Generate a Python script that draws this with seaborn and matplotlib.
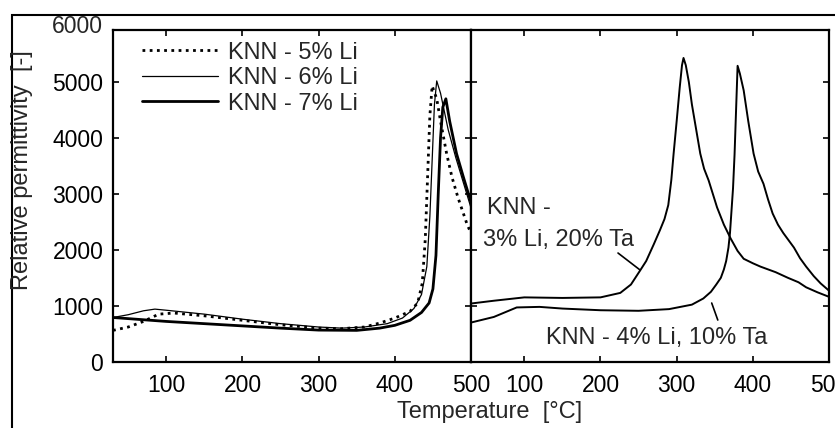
import matplotlib
matplotlib.use("Agg")
import matplotlib.pyplot as plt
import seaborn as sns
from matplotlib.patches import Rectangle

# ---------------- data ----------------
li5_x = [30, 50, 70, 90, 110, 150, 200, 250, 300, 330, 360, 380, 400, 420, 430, 436, 440, 443, 446, 449, 455, 460, 468, 475, 483, 490, 495, 500]
li5_y = [560, 620, 720, 850, 870, 820, 740, 660, 600, 590, 620, 690, 780, 900, 1050, 1400, 2200, 3300, 4400, 4930, 4700, 4300, 3720, 3300, 2930, 2650, 2450, 2300]

li6_x = [30, 50, 70, 85, 100, 150, 200, 250, 300, 330, 360, 390, 410, 425, 435, 442, 446, 449, 452, 455, 460, 470, 480, 490, 500]
li6_y = [790, 840, 910, 940, 920, 850, 760, 680, 620, 600, 620, 680, 780, 950, 1200, 1700, 2600, 3600, 4600, 5020, 4800, 4150, 3650, 3200, 2750]

li7_x = [30, 60, 100, 150, 200, 250, 300, 350, 380, 400, 420, 435, 445, 450, 454, 457, 460, 463, 467, 472, 481, 490, 500]
li7_y = [790, 760, 720, 680, 640, 600, 565, 560, 600, 650, 740, 880, 1050, 1300, 1900, 3000, 4000, 4550, 4700, 4300, 3720, 3300, 2850]

ta20_x = [30, 60, 100, 150, 200, 226, 240, 252, 260, 270, 278, 284, 289, 293, 296, 300, 304, 307, 309, 312, 316, 320, 325, 331, 336, 342, 353, 362, 371, 380, 388, 400, 410, 430, 446, 460, 470, 485, 500]
ta20_y = [1040, 1090, 1150, 1140, 1150, 1230, 1380, 1630, 1800, 2100, 2350, 2550, 2800, 3250, 3720, 4300, 4900, 5300, 5430, 5300, 5000, 4600, 4200, 3720, 3450, 3240, 2760, 2450, 2200, 1980, 1840, 1760, 1700, 1600, 1500, 1420, 1330, 1240, 1160]

ta10_x = [30, 60, 90, 120, 150, 200, 250, 290, 320, 335, 345, 352, 358, 362, 365, 368, 370, 372, 374, 376, 378, 380, 383, 388, 394, 401, 407, 414, 420, 426, 433, 440, 447, 454, 462, 470, 480, 489, 500]
ta10_y = [700, 800, 970, 980, 950, 920, 910, 940, 1020, 1130, 1250, 1380, 1500, 1650, 1800, 2040, 2300, 2700, 3100, 3700, 4500, 5290, 5150, 4850, 4300, 3720, 3400, 3180, 2900, 2650, 2450, 2300, 2170, 2040, 1850, 1700, 1530, 1400, 1270]

x_ticks = [100, 200, 300, 400, 500]
y_ticks = [0, 1000, 2000, 3000, 4000, 5000]
legend_labels = ["KNN - 5% Li", "KNN - 6% Li", "KNN - 7% Li"]

# ---------------- style ----------------
sns.set_style("ticks")
plt.rcParams["font.family"] = ["Liberation Sans", "DejaVu Sans"]

W, H = 835, 428
fig = plt.figure(figsize=(W / 100, H / 100), dpi=100)

bot = 1 - 361.7 / H
hgt = (361.7 - 30) / H
axL = fig.add_axes([113 / W, bot, 358 / W, hgt])
axR = fig.add_axes([471 / W, bot, 358 / W, hgt])

FS_TICK = 16.5
FS_TXT = 17

for ax in (axL, axR):
    ax.set_xlim(30, 500)
    ax.set_ylim(0, 5930)
    ax.set_xticks(x_ticks)
    ax.set_yticks(y_ticks)
    for s in ax.spines.values():
        s.set_linewidth(1.6)
        s.set_color("black")
    ax.tick_params(direction="in", length=4, width=1.2, top=True, right=True,
                   labelsize=FS_TICK, colors="black")
    ax.tick_params(axis="x", pad=9)
    ax.tick_params(axis="y", pad=7)
    ax.set_facecolor("white")

axR.tick_params(axis="y", labelleft=False)

# ---------------- left panel ----------------
sns.lineplot(x=li5_x, y=li5_y, ax=axL, color="black", lw=2.0,
             linestyle=(0, (1, 1.6)), label=legend_labels[0], sort=False)
sns.lineplot(x=li6_x, y=li6_y, ax=axL, color="black", lw=0.9,
             label=legend_labels[1], sort=False)
sns.lineplot(x=li7_x, y=li7_y, ax=axL, color="black", lw=2.0,
             label=legend_labels[2], sort=False)

leg = axL.legend(loc="upper left", bbox_to_anchor=(0.081, 0.965), frameon=False,
                 fontsize=FS_TXT, handlelength=3.2, handletextpad=0.45,
                 labelspacing=0.15, borderpad=0, borderaxespad=0)

axL.annotate("6000", xy=(0, 6000), xycoords=("axes fraction", "data"),
             xytext=(-7, 0), textcoords="offset points", ha="right", va="center",
             fontsize=FS_TICK, annotation_clip=False)

# ---------------- right panel ----------------
sns.lineplot(x=ta20_x, y=ta20_y, ax=axR, color="black", lw=1.4, sort=False)
sns.lineplot(x=ta10_x, y=ta10_y, ax=axR, color="black", lw=1.4, sort=False)

axR.text(51, 2744, "KNN -", fontsize=FS_TXT, ha="left", va="center")
axR.text(46, 2172, "3% Li, 20% Ta", fontsize=FS_TXT, ha="left", va="center")
axR.plot([223, 252], [1943, 1639], color="black", lw=1.2)
axR.text(128, 415, "KNN - 4% Li, 10% Ta", fontsize=FS_TXT, ha="left", va="center")
axR.plot([346, 354], [1049, 745], color="black", lw=1.2)

# ---------------- labels ----------------
fig.text(22 / W, 1 - 170 / H, "Relative permittivity  [-]", rotation=90,
         ha="center", va="center", fontsize=FS_TXT)
fig.text(490 / W, 1 - 412 / H, "Temperature  [°C]", ha="center", va="center",
         fontsize=FS_TXT)

# outer frame
fig.add_artist(Rectangle((12 / W, -0.2), 1.2, 1.2 - 15 / H, transform=fig.transFigure,
                         fill=False, edgecolor="black", lw=1.5))

fig.savefig("out.png", dpi=100, facecolor="white")
